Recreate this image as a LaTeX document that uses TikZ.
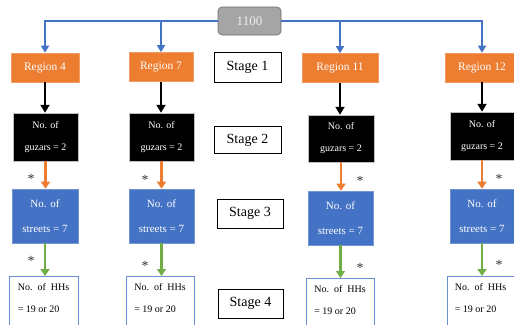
\documentclass[tikz,border=0pt]{standalone}
\usepackage{fontspec}
\setmainfont{Liberation Serif}
\usetikzlibrary{arrows.meta}
\definecolor{oran}{HTML}{ED7D31}
\definecolor{blu}{HTML}{4472C4}
\definecolor{grn}{HTML}{70AD47}
\definecolor{gry}{HTML}{A5A5A5}
\begin{document}
\begin{tikzpicture}[x=1pt,y=-1pt,
  topbox/.style={rounded corners=4pt, fill=gry, draw=gray!85!black, line width=0.6pt, text=white!88!gray, font=\fontsize{13}{15}\selectfont, minimum width=63, minimum height=28, inner sep=0},
  region/.style={fill=oran, draw=oran!75!white, line width=0.6pt, text=white, font=\fontsize{11.5}{14}\selectfont, minimum height=29, inner sep=0},
  stagebox/.style={draw=black, line width=0.7pt, fill=white, font=\fontsize{14}{16}\selectfont, minimum height=29, inner sep=0},
  guzar/.style={fill=black, draw=gray!50, line width=0.5pt, text=white, font=\fontsize{10}{22}\selectfont, align=center, minimum height=48, inner sep=0},
  street/.style={fill=blu, draw=blu!75!white, line width=0.6pt, text=white, font=\fontsize{11}{25}\selectfont, align=center, minimum height=54, inner sep=0},
  hhbox/.style={draw=blu!80!white, fill=white, line width=0.9pt, minimum height=70, anchor=north, inner sep=0},
  hhtext/.style={font=\fontsize{10}{22}\selectfont, align=left, anchor=north, inner sep=0},
  star/.style={font=\fontsize{14}{16}\selectfont, text=black!80, inner sep=0},
  barrow/.style={draw=blu, line width=1.5pt, -{Triangle[width=8pt,length=7pt]}},
  karrow/.style={draw=black, line width=2pt, -{Triangle[width=9pt,length=8pt]}},
  oarrow/.style={draw=oran, line width=2.6pt, -{Triangle[width=9pt,length=7pt]}},
  garrow/.style={draw=grn, line width=2.6pt, -{Triangle[width=9pt,length=7pt]}}
]
\clip (0,0) rectangle (514,324);
\useasboundingbox (0,0) rectangle (514,324);

% top
\node[topbox] (top) at (249.5,21) {1100};

% regions
\node[region, minimum width=68] (r4) at (45,67.5) {Region 4};
\node[region, minimum width=64] (r7) at (161,67) {Region 7};
\node[region, minimum width=76] (r11) at (340,68) {Region 11};
\node[region, minimum width=74] (r12) at (482,67.5) {Region 12};

% stages
\node[stagebox, minimum width=67, minimum height=30] (st1) at (247.5,67) {Stage 1};
\node[stagebox, minimum width=67, minimum height=27] (st2) at (247.5,140) {Stage 2};
\node[stagebox, minimum width=66] (st3) at (250,213.5) {Stage 3};
\node[stagebox, minimum width=65] (st4) at (250.5,303.5) {Stage 4};

% guzars
\node[guzar, minimum width=65] (g1) at (45.5,137) {No. of\\guzars = 2};
\node[guzar, minimum width=65] (g2) at (161.5,137) {No. of\\guzars = 2};
\node[guzar, minimum width=66, minimum height=47] (g3) at (341,138.5) {No. of\\guzars = 2};
\node[guzar, minimum width=64] (g4) at (482,136) {No. of\\guzars = 2};

% streets
\node[street, minimum width=66] (s1) at (45,216) {No. of\\streets = 7};
\node[street, minimum width=65] (s2) at (161.5,216) {No. of\\streets = 7};
\node[street, minimum width=65] (s3) at (340.5,218) {No. of\\streets = 7};
\node[street, minimum width=64] (s4) at (482,216) {No. of\\streets = 7};

% households
\node[hhbox, minimum width=69] (h1) at (43.5,276) {};
\node[hhbox, minimum width=68] (h2) at (160,276) {};
\node[hhbox, minimum width=68] (h3) at (340,278) {};
\node[hhbox, minimum width=67] (h4) at (480.5,276) {};
\node[hhtext] (t1) at ([yshift=-7pt]h1.north) {No.\ \ of\ \ HHs\\= 19 or 20};
\node[hhtext] (t2) at ([yshift=-7pt]h2.north) {No.\ \ of\ \ HHs\\= 19 or 20};
\node[hhtext] (t3) at ([yshift=-7pt]h3.north) {No.\ \ of\ \ HHs\\= 19 or 20};
\node[hhtext] (t4) at ([yshift=-7pt]h4.north) {No.\ \ of\ \ HHs\\= 19 or 20};

% blue connectors
\draw[barrow] (top.west) -| (r4.north);
\draw[barrow] (top.east) -| (r12.north);
\draw[barrow] (r7.north |- top.west) -- (r7.north);
\draw[barrow] (r11.north |- top.east) -- (r11.north);

% black arrows
\draw[karrow] (r4.south) -- (r4.south |- g1.north);
\draw[karrow] (r7.south) -- (r7.south |- g2.north);
\draw[karrow] (r11.south) -- (r11.south |- g3.north);
\draw[karrow] (r12.south) -- (r12.south |- g4.north);

% orange arrows
\draw[oarrow] (g1.south) -- (g1.south |- s1.north);
\draw[oarrow] (g2.south) -- (g2.south |- s2.north);
\draw[oarrow] (g3.south) -- (g3.south |- s3.north);
\draw[oarrow] (g4.south) -- (g4.south |- s4.north);

% green arrows
\draw[garrow] (s1.south) -- (s1.south |- h1.north);
\draw[garrow] (s2.south) -- (s2.south |- h2.north);
\draw[garrow] (s3.south) -- (s3.south |- h3.north);
\draw[garrow] (s4.south) -- (s4.south |- h4.north);

% asterisks
\node[star] (a1) at (31,179) {*};
\node[star] (a2) at (145,180) {*};
\node[star] (a3) at (360,181) {*};
\node[star] (a4) at (499,179) {*};
\node[star] (a5) at (31,261) {*};
\node[star] (a6) at (145,266) {*};
\node[star] (a7) at (360,268) {*};
\node[star] (a8) at (499,265) {*};
\end{tikzpicture}
\end{document}
